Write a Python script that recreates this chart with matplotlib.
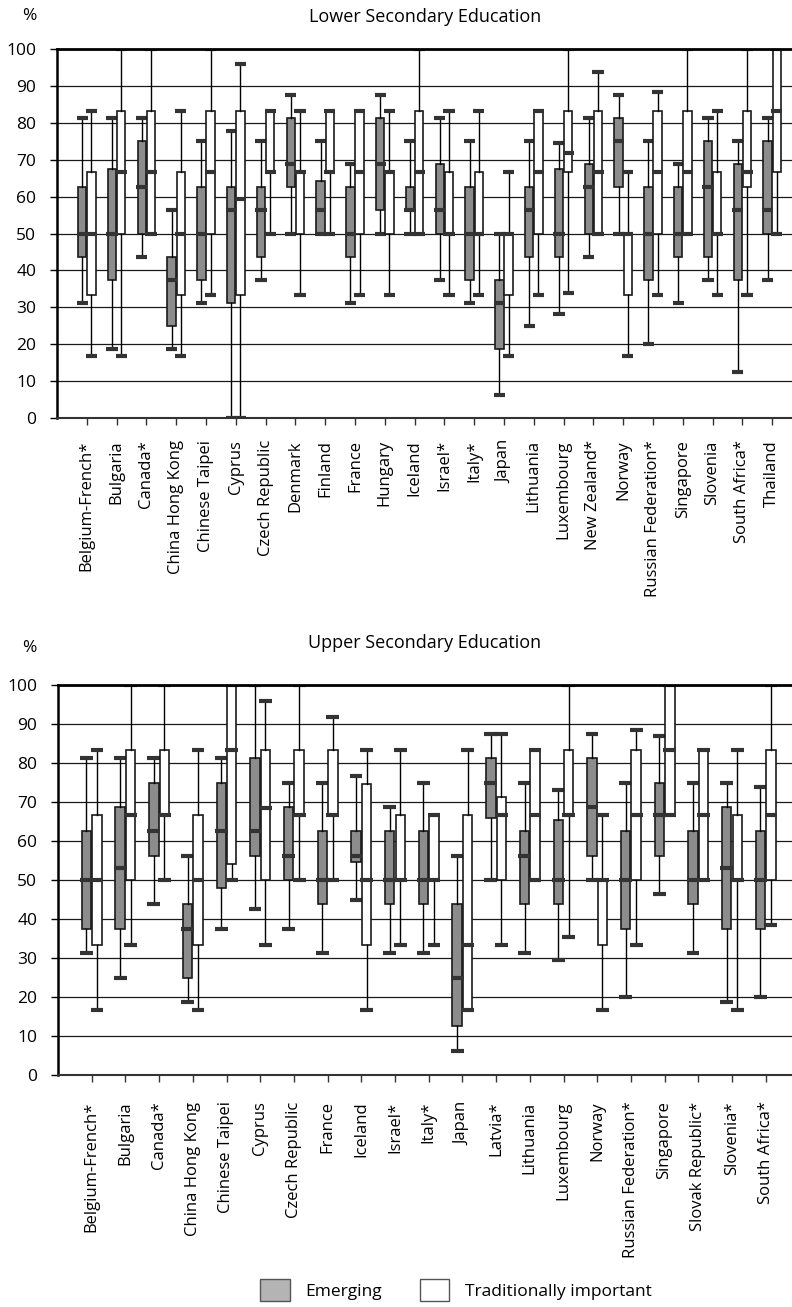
import numpy as np
import matplotlib.pyplot as plt
from matplotlib.patches import Patch

plt.rcParams['font.family'] = ['Open Sans', 'DejaVu Sans']

# Five-number summaries per country: (min, lower quartile, median, upper quartile, max)
lower_countries = ['Belgium-French*', 'Bulgaria', 'Canada*', 'China Hong Kong', 'Chinese Taipei',
                   'Cyprus', 'Czech Republic', 'Denmark', 'Finland', 'France', 'Hungary', 'Iceland',
                   'Israel*', 'Italy*', 'Japan', 'Lithuania', 'Luxembourg', 'New Zealand*', 'Norway',
                   'Russian Federation*', 'Singapore', 'Slovenia', 'South Africa*', 'Thailand']
lower_emerging = [
    (31.25, 43.75, 50, 62.5, 81.25), (18.75, 37.5, 50, 67.5, 81.25), (43.75, 50, 62.5, 75, 81.25),
    (18.75, 25, 37.5, 43.75, 56.25), (31.25, 37.5, 50, 62.5, 75), (0, 31.25, 56.25, 62.5, 77.8),
    (37.5, 43.75, 56.25, 62.5, 75), (50, 62.5, 68.75, 81.25, 87.5), (50, 50, 56.25, 64.3, 75),
    (31.25, 43.75, 50, 62.5, 68.75), (50, 56.25, 68.75, 81.25, 87.5), (50, 56.25, 56.25, 62.5, 75),
    (37.5, 50, 56.25, 68.75, 81.25), (31.25, 37.5, 50, 62.5, 75), (6.25, 18.75, 31.25, 37.5, 50),
    (25, 43.75, 56.25, 62.5, 75), (28.1, 43.75, 50, 67.5, 74.5), (43.75, 50, 62.5, 68.75, 81.25),
    (50, 62.5, 75, 81.25, 87.5), (20, 37.5, 50, 62.5, 75), (31.25, 43.75, 50, 62.5, 68.75),
    (37.5, 43.75, 62.5, 75, 81.25), (12.5, 37.5, 56.25, 68.75, 75), (37.5, 50, 56.25, 75, 81.25),
]
lower_traditional = [
    (16.7, 33.3, 50, 66.7, 83.3), (16.7, 50, 66.7, 83.3, 100), (50, 50, 66.7, 83.3, 100),
    (16.7, 33.3, 50, 66.7, 83.3), (33.3, 50, 66.7, 83.3, 100), (0, 33.3, 59.4, 83.3, 95.8),
    (50, 66.7, 66.7, 83.3, 83.3), (33.3, 50, 66.7, 66.7, 83.3), (50, 66.7, 66.7, 83.3, 83.3),
    (33.3, 50, 66.7, 83.3, 83.3), (33.3, 50, 66.7, 66.7, 83.3), (50, 50, 66.7, 83.3, 100),
    (33.3, 50, 50, 66.7, 83.3), (33.3, 50, 50, 66.7, 83.3), (16.7, 33.3, 50, 50, 66.7),
    (33.3, 50, 66.7, 83.3, 83.3), (33.9, 66.7, 71.7, 83.3, 100), (50, 50, 66.7, 83.3, 93.75),
    (16.7, 33.3, 50, 50, 66.7), (33.3, 50, 66.7, 83.3, 88.3), (50, 50, 66.7, 83.3, 100),
    (33.3, 50, 50, 66.7, 83.3), (33.3, 62.5, 66.7, 83.3, 100), (50, 66.7, 83.3, 100, 100),
]

upper_countries = ['Belgium-French*', 'Bulgaria', 'Canada*', 'China Hong Kong', 'Chinese Taipei',
                   'Cyprus', 'Czech Republic', 'France', 'Iceland', 'Israel*', 'Italy*', 'Japan',
                   'Latvia*', 'Lithuania', 'Luxembourg', 'Norway', 'Russian Federation*', 'Singapore',
                   'Slovak Republic*', 'Slovenia*', 'South Africa*']
upper_emerging = [
    (31.25, 37.5, 50, 62.5, 81.25), (25, 37.5, 53.1, 68.75, 81.25), (43.75, 56.25, 62.5, 75, 81.25),
    (18.75, 25, 37.5, 43.75, 56.25), (37.5, 48, 62.5, 75, 81.25), (42.5, 56.25, 62.5, 81.25, 100),
    (37.5, 50, 56.25, 68.75, 75), (31.25, 43.75, 50, 62.5, 75), (45, 54.5, 56.25, 62.5, 76.7),
    (31.25, 43.75, 50, 62.5, 68.75), (31.25, 43.75, 50, 62.5, 75), (6.25, 12.5, 25, 43.75, 56.25),
    (50, 65.8, 75, 81.25, 87.5), (31.25, 43.75, 56.25, 62.5, 75), (29.4, 43.75, 50, 65.4, 73.1),
    (50, 56.25, 68.75, 81.25, 87.5), (20, 37.5, 50, 62.5, 75), (46.4, 56.25, 66.7, 75, 87),
    (31.25, 43.75, 50, 62.5, 75), (18.75, 37.5, 53.1, 68.75, 75), (20, 37.5, 50, 62.5, 73.75),
]
upper_traditional = [
    (16.7, 33.3, 50, 66.7, 83.3), (33.3, 50, 66.7, 83.3, 100), (50, 66.7, 66.7, 83.3, 100),
    (16.7, 33.3, 50, 66.7, 83.3), (50, 54.2, 83.3, 100, 100), (33.3, 50, 68.5, 83.3, 95.8),
    (50, 66.7, 66.7, 83.3, 100), (50, 66.7, 66.7, 83.3, 91.7), (16.7, 33.3, 50, 74.6, 83.3),
    (33.3, 50, 50, 66.7, 83.3), (33.3, 50, 50, 66.7, 66.7), (16.7, 16.7, 33.3, 66.7, 83.3),
    (33.3, 50, 66.7, 71.4, 87.5), (50, 50, 66.7, 83.3, 83.3), (35.5, 66.7, 66.7, 83.3, 100),
    (16.7, 33.3, 50, 50, 66.7), (33.3, 50, 66.7, 83.3, 88.5), (66.7, 66.7, 83.3, 100, 100),
    (50, 50, 66.7, 83.3, 83.3), (16.7, 50, 50, 66.7, 83.3), (38.5, 50, 66.7, 83.3, 100),
]

EMERGING_FILL = '#8c8c8c'
LEGEND_GREY = '#b4b4b4'
EDGE = '#1a1a1a'
CAP = '#333333'

W, H = 792, 1307
fig = plt.figure(figsize=(W / 100, H / 100), dpi=100)


def draw_panel(ax, countries, emerging, traditional, right_lim, label_pad):
    pos = np.arange(len(countries))
    for vals, offset, fill in ((emerging, -0.155, EMERGING_FILL), (traditional, 0.155, 'white')):
        stats = [dict(whislo=v[0], q1=v[1], med=v[2], q3=v[3], whishi=v[4]) for v in vals]
        ax.bxp(stats, positions=pos + offset, widths=0.28, capwidths=0.38,
               patch_artist=True, showfliers=False, manage_ticks=False,
               boxprops=dict(facecolor=fill, edgecolor=EDGE, linewidth=1.2),
               whiskerprops=dict(color='black', linewidth=1.0),
               capprops=dict(color=CAP, linewidth=3, solid_capstyle='butt'),
               medianprops=dict(linewidth=0))
        # median marks are as wide as the caps
        ax.hlines([v[2] for v in vals], pos + offset - 0.19, pos + offset + 0.19,
                  colors=CAP, linewidth=3, zorder=4)

    ax.set_xlim(-1, right_lim)
    ax.set_ylim(0, 100)
    ax.set_yticks(np.arange(0, 101, 10))
    ax.set_xticks(pos)
    ax.set_xticklabels(countries, rotation=90, va='top', ha='center', fontsize=12)
    ax.tick_params(axis='y', labelsize=12.5, length=5, width=1, pad=10, color='black')
    ax.tick_params(axis='x', length=5, width=1, pad=label_pad, color='#333333')
    ax.set_axisbelow(True)
    ax.yaxis.grid(True, color=EDGE, linewidth=0.9)
    ax.spines['right'].set_visible(False)
    ax.spines['top'].set_linewidth(2)
    ax.spines['left'].set_linewidth(1.8)
    ax.spines['bottom'].set_linewidth(1.5)
    ax.spines['bottom'].set_color('#333333')


# top panel: lower secondary
ax1 = fig.add_axes([57 / W, 1 - 418 / H, (W - 57) / W, (418 - 49) / H])
draw_panel(ax1, lower_countries, lower_emerging, lower_traditional, -1 + (W - 57) / 29.8, 11)

# bottom panel: upper secondary
ax2 = fig.add_axes([58 / W, 1 - 1075 / H, (W - 58) / W, (1075 - 685) / H])
draw_panel(ax2, upper_countries, upper_emerging, upper_traditional, -1 + (W - 58) / 33.7, 14)

fig.text(29 / W, 1 - 16 / H, '%', ha='center', va='center', fontsize=12.5)
fig.text(425 / W, 1 - 17 / H, 'Lower Secondary Education', ha='center', va='center', fontsize=13)
fig.text(29 / W, 1 - 648 / H, '%', ha='center', va='center', fontsize=12.5)
fig.text(425 / W, 1 - 643 / H, 'Upper Secondary Education', ha='center', va='center', fontsize=13)

handles = [Patch(facecolor=LEGEND_GREY, edgecolor='#555555', linewidth=1),
           Patch(facecolor='white', edgecolor='#555555', linewidth=1)]
fig.legend(handles, ['Emerging', 'Traditionally important'], ncol=2, frameon=False,
           loc='center', bbox_to_anchor=(456 / W, 1 - 1290 / H), fontsize=12.5,
           handlelength=1.7, handleheight=1.6, handletextpad=0.9, columnspacing=2.2,
           borderpad=0, borderaxespad=0)

fig.savefig('out.png', dpi=100)
